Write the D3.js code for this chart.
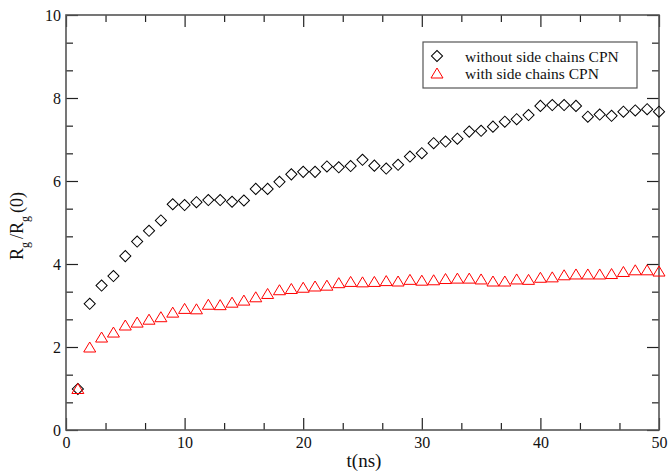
<!DOCTYPE html>
<html><head><meta charset="utf-8">
<script src="https://cdn.jsdelivr.net/npm/d3@7"></script>
</head><body style="margin:0">
<svg id="c" width="669" height="472" style="font-family:&quot;Liberation Serif&quot;"></svg>
<script>
const times = d3.range(1, 51);
const withoutSide = [0.99,3.04,3.48,3.71,4.19,4.54,4.80,5.05,5.44,5.42,5.49,5.54,5.54,5.50,5.53,5.81,5.81,5.98,6.16,6.22,6.22,6.35,6.33,6.36,6.51,6.37,6.30,6.39,6.59,6.67,6.91,6.95,7.02,7.19,7.21,7.31,7.43,7.49,7.59,7.81,7.83,7.83,7.81,7.55,7.60,7.57,7.67,7.70,7.73,7.67];
const withSide = [1.00,2.00,2.24,2.36,2.53,2.60,2.67,2.73,2.84,2.93,2.92,3.03,3.02,3.08,3.13,3.21,3.29,3.38,3.41,3.44,3.47,3.49,3.55,3.58,3.57,3.58,3.60,3.59,3.63,3.61,3.62,3.65,3.66,3.66,3.64,3.59,3.59,3.64,3.63,3.68,3.69,3.74,3.76,3.76,3.76,3.77,3.82,3.86,3.86,3.83];
const seriesNames = ["without side chains CPN", "with side chains CPN"];
const xTickLabels = ["0","10","20","30","40","50"];
const yTickLabels = ["0","2","4","6","8","10"];

const svg = d3.select("#c");
const L = 66, R = 659, T = 15, B = 430;
const x = d3.scaleLinear().domain([0, 50]).range([L, R]);
const y = d3.scaleLinear().domain([0, 10]).range([B, T]);
const frame = "#555";
const fam = '"Liberation Serif"';

const xMajor = xTickLabels.map(Number);
const yMajor = yTickLabels.map(Number);
const xMinor = d3.range(0, 50.001, 10/3).filter(v => !xMajor.some(m => Math.abs(m - v) < 1e-6));
const yMinor = d3.range(0, 10.001, 2/3).filter(v => !yMajor.some(m => Math.abs(m - v) < 1e-6));

function styleAxis(g, labels) {
  g.attr("font-family", null).attr("font-size", null);
  g.select(".domain").remove();
  g.selectAll(".tick line").attr("stroke", "#222").attr("stroke-width", 1.2);
  if (labels) g.selectAll(".tick text").attr("fill", "#111").style("font-family", fam).style("font-size", "16px");
  else g.selectAll(".tick text").remove();
}
svg.append("g").attr("transform", `translate(0,${B})`)
  .call(d3.axisBottom(x).tickValues(xMajor).tickFormat((d,i)=>xTickLabels[i]).tickSize(-12).tickPadding(7))
  .call(g => styleAxis(g, true));
svg.append("g").attr("transform", `translate(0,${B})`)
  .call(d3.axisBottom(x).tickValues(xMinor).tickSize(-7)).call(g => styleAxis(g, false));
svg.append("g").attr("transform", `translate(0,${T})`)
  .call(d3.axisTop(x).tickValues(xMajor).tickSize(-12)).call(g => styleAxis(g, false));
svg.append("g").attr("transform", `translate(0,${T})`)
  .call(d3.axisTop(x).tickValues(xMinor).tickSize(-7)).call(g => styleAxis(g, false));
svg.append("g").attr("transform", `translate(${L},0)`)
  .call(d3.axisLeft(y).tickValues(yMajor).tickFormat((d,i)=>yTickLabels[i]).tickSize(-12).tickPadding(5))
  .call(g => styleAxis(g, true));
svg.append("g").attr("transform", `translate(${L},0)`)
  .call(d3.axisLeft(y).tickValues(yMinor).tickSize(-7)).call(g => styleAxis(g, false));
svg.append("g").attr("transform", `translate(${R},0)`)
  .call(d3.axisRight(y).tickValues(yMajor).tickSize(-12)).call(g => styleAxis(g, false));
svg.append("g").attr("transform", `translate(${R},0)`)
  .call(d3.axisRight(y).tickValues(yMinor).tickSize(-7)).call(g => styleAxis(g, false));

svg.append("rect").attr("x", L).attr("y", T).attr("width", R - L).attr("height", B - T)
  .attr("fill", "none").attr("stroke", frame).attr("stroke-width", 1.6);

const diamond = d3.symbol().type(d3.symbolSquare).size(62);
const triType = { draw(ctx, size) { const w = 12, h = 10; ctx.moveTo(0, -h/2); ctx.lineTo(w/2, h/2); ctx.lineTo(-w/2, h/2); ctx.closePath(); } };
const triangle = d3.symbol().type(triType).size(60);

svg.append("g").selectAll("path").data(times).join("path")
  .attr("d", diamond).attr("transform", (d,i) => `translate(${x(d)},${y(withoutSide[i])}) rotate(45)`)
  .attr("fill", "none").attr("stroke", "#000").attr("stroke-width", 1);
svg.append("g").selectAll("path").data(times).join("path")
  .attr("d", triangle).attr("transform", (d,i) => `translate(${x(d)},${y(withSide[i])})`)
  .attr("fill", "none").attr("stroke", "#f00").attr("stroke-width", 1);

const lg = svg.append("g");
lg.append("rect").attr("x", 423).attr("y", 42).attr("width", 214).attr("height", 46)
  .attr("fill", "#fff").attr("stroke", frame).attr("stroke-width", 1.2);
lg.append("path").attr("d", diamond).attr("transform", "translate(437,56) rotate(45)").attr("fill","none").attr("stroke","#000");
lg.append("path").attr("d", triangle).attr("transform", "translate(437,73)").attr("fill","none").attr("stroke","#f00");
lg.selectAll("text").data(seriesNames).join("text")
  .attr("x", 465).attr("y", (d,i) => 61.5 + i*17).style("font-family", fam).style("font-size", "15.5px").attr("fill", "#111").text(d => d);

svg.append("text").style("font-family", fam).style("font-size", "19px").attr("x", 364).attr("y", 467).attr("text-anchor", "middle").attr("fill","#111").text("t(ns)");
const yl = svg.append("text").style("font-family", fam).style("font-size", "18px").attr("transform", `translate(23,226) rotate(-90)`).attr("text-anchor", "middle").attr("fill","#111");
yl.append("tspan").text("R");
yl.append("tspan").attr("dy", 6).style("font-size", "12px").text("g");
yl.append("tspan").attr("dy", -6).attr("dx", 3).text("/R");
yl.append("tspan").attr("dy", 6).style("font-size", "12px").text("g");
yl.append("tspan").attr("dy", -6).attr("dx", 3).text("(0)");
</script></body></html>
